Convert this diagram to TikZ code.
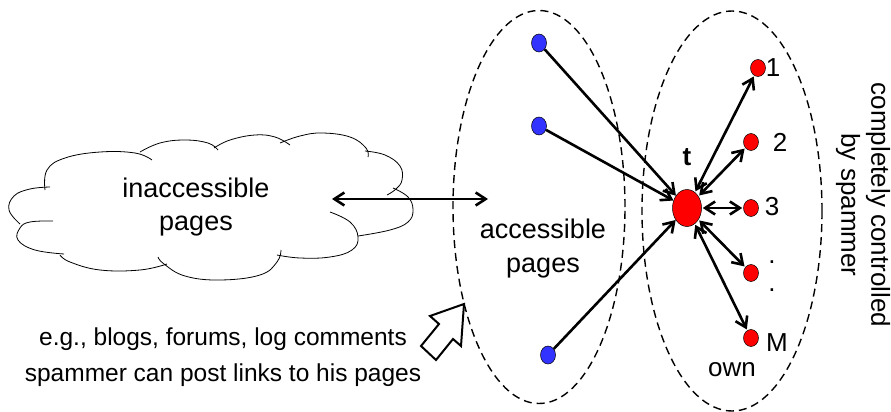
\documentclass[tikz,border=0pt]{standalone}
\usepackage{fontspec}
\setmainfont{Liberation Sans}
\usetikzlibrary{arrows.meta,shapes.symbols,shapes.geometric}
\definecolor{dotblue}{RGB}{51,51,255}
\begin{document}
\begin{tikzpicture}[x=1pt,y=-1pt,
  dashell/.style={ellipse, draw, dash pattern=on 8pt off 5pt, line width=1.4pt, inner sep=0},
  bdot/.style={ellipse, draw, line width=0.5pt, fill=dotblue, minimum width=15pt, minimum height=18pt, inner sep=0},
  rdot/.style={ellipse, draw, line width=0.5pt, fill=red, minimum width=15pt, minimum height=17pt, inner sep=0},
  tip/.tip={Straight Barb[length=10pt,width=13pt]},
  lnk/.style={line width=2.6pt, -tip},
  dlnk/.style={line width=2.6pt, tip-tip},
  lbl/.style={font=\fontsize{26}{30}\selectfont, inner sep=0},
  biglbl/.style={font=\fontsize{27}{34}\selectfont, inner sep=0, align=center},
  puff/.style={line width=0.8pt, smooth, tension=0.7},
]
\useasboundingbox (0,0) rectangle (891,412);

% cloud outline (puffs)
\draw[puff] plot coordinates {(20,224) (9,210) (14,196) (30,189) (50,187)};
\draw[puff] plot coordinates {(45,190) (47,170) (65,158) (100,152) (135,153) (152,160)};
\draw[puff] plot coordinates {(140,152) (160,143) (185,140) (208,143) (218,150)};
\draw[puff] plot coordinates {(214,148) (230,140) (255,135) (275,137) (290,145)};
\draw[puff] plot coordinates {(280,143) (300,136) (322,133) (350,137) (366,148) (368,157)};
\draw[puff] plot coordinates {(365,151) (385,155) (400,166) (402,180) (396,189) (387,195)};
\draw[puff] plot coordinates {(393,188) (408,197) (413,210) (408,222) (390,230) (358,236)};
\draw[puff] plot coordinates {(330,212) (350,222) (358,237) (352,250) (330,257) (300,258) (277,255)};
\draw[puff] plot coordinates {(281,250) (277,262) (260,275) (220,280) (185,276) (164,264) (158,257)};
\draw[puff] plot coordinates {(167,264) (140,270) (100,270) (70,262) (60,255)};
\draw[puff] plot coordinates {(64,254) (35,250) (18,240) (20,228) (30,222) (53,221)};
\coordinate (cloudc) at (210,207);

% regions
\node[dashell, minimum width=172pt, minimum height=393pt] (acc) at (539,207) {};
\node[dashell, minimum width=180pt, minimum height=400pt] (own) at (732,211) {};

% texts
\node[biglbl, font=\fontsize{27}{33}\selectfont] (inacctext) at (196,207) {inaccessible\\pages};
\node[biglbl] (acctext) at (543,249) {accessible\\pages};
\node[lbl] (owntext) at (732,370) {own};
\node[lbl, rotate=-90, align=center] (ctrl) at (863,205) {completely controlled\\by spammer};
\node[inner sep=0, align=center, font=\fontsize{24.5}{35.5}\selectfont] (note) at (223,357)
  {e.g., blogs, forums, log comments\\spammer can post links to his pages};

% nodes
\node[bdot] (b1) at (539,43) {};
\node[bdot] (b2) at (539,126) {};
\node[bdot] (b3) at (548,355) {};
\node[ellipse, draw, line width=0.5pt, fill=red, minimum width=29pt, minimum height=37pt, inner sep=0] (t) at (687,208) {};
\node[lbl, font=\fontsize{26}{30}\selectfont\bfseries] (tlbl) at (687,157) {t};
\node[rdot] (r1) at (758,68) {};
\node[rdot] (r2) at (751,142) {};
\node[rdot] (r3) at (751,208) {};
\node[rdot] (r4) at (751,273) {};
\node[rdot] (rM) at (751,338) {};
\node[lbl] (l1) at (773,68) {1};
\node[lbl] (l2) at (780,142) {2};
\node[lbl] (l3) at (772,207) {3};
\node[lbl] (d1) at (772,262) {.};
\node[lbl] (d2) at (772,290) {.};
\node[lbl] (lM) at (777,343) {M};

% connectors
\coordinate (ca) at (332,199);
\coordinate (cb) at (488,199);
\draw[dlnk] (ca) -- (cb);
\draw[lnk] (b1) -- (t);
\draw[lnk] (b2) -- (t);
\draw[lnk] (b3) -- (t);
\draw[dlnk, shorten <=1pt, shorten >=1pt] (t) -- (r1);
\draw[dlnk, shorten <=1pt, shorten >=1pt] (t) -- (r2);
\draw[dlnk, shorten <=1pt, shorten >=1pt] (t) -- (r3);
\draw[dlnk, shorten <=1pt, shorten >=1pt] (t) -- (r4);
\draw[dlnk, shorten <=1pt, shorten >=1pt] (t) -- (rM);

% hollow block arrow
\draw[line width=2pt, fill=white, line join=miter] (464,304) -- (430,316) -- (439,324) -- (421,346)
  -- (436,360) -- (453,339) -- (461,346) -- cycle;
\end{tikzpicture}
\end{document}
